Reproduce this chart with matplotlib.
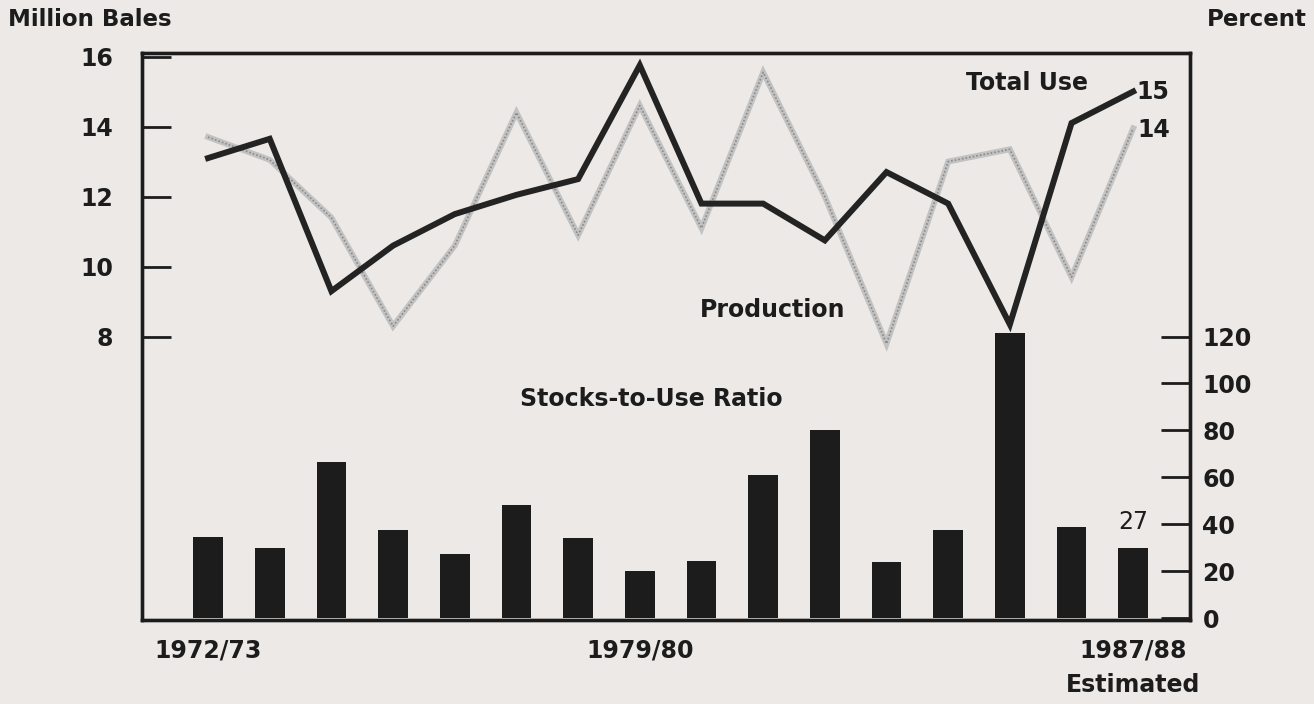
import numpy as np
import matplotlib.pyplot as plt

# ---- data ----
years = ['1972/73', '1973/74', '1974/75', '1975/76', '1976/77', '1977/78', '1978/79', '1979/80',
         '1980/81', '1981/82', '1982/83', '1983/84', '1984/85', '1985/86', '1986/87', '1987/88']
total_use = [13.1, 13.65, 9.3, 10.6, 11.5, 12.05, 12.5, 15.75,
             11.8, 11.8, 10.75, 12.7, 11.8, 8.35, 14.1, 15.0]
production = [13.7, 13.05, 11.4, 8.3, 10.6, 14.4, 10.9, 14.6,
              11.1, 15.55, 12.0, 7.8, 13.0, 13.35, 9.7, 13.95]
stocks_ratio = [34.5, 30.0, 66.5, 37.5, 27.3, 48.4, 34.1, 20.3,
                24.4, 60.9, 80.2, 23.8, 37.8, 121.4, 38.7, 30.0]
xlabels = {0: '1972/73', 7: '1979/80', 15: '1987/88\nEstimated'}

bg = '#ece9e7'
ink = '#1c1c1c'
plt.rcParams['font.family'] = ['DejaVu Sans']

fig = plt.figure(figsize=(13.14, 7.04), dpi=100, facecolor=bg)
ax = fig.add_axes([0.1081, 0.1193, 0.7975, 0.8054])
ax2 = ax.twinx()
ax.set_zorder(2)
ax.patch.set_visible(False)
ax2.set_facecolor(bg)

x = np.arange(len(years))

# bars (percent, right scale)
ax2.bar(x, stocks_ratio, width=0.48, color=ink, zorder=2)
ax2.set_ylim(-0.7, 240.7)
ax2.set_yticks([0, 20, 40, 60, 80, 100, 120])
ax2.tick_params(axis='y', direction='in', length=21, width=2, color=ink,
                pad=9, labelsize=17, labelcolor=ink)
for lbl in ax2.get_yticklabels():
    lbl.set_fontweight('bold')

# lines (million bales, left scale)
ax.plot(x, production, color='#c2c2c2', lw=4.2, solid_joinstyle='miter', zorder=3)
ax.plot(x, production, color='#8a8a8a', lw=1.2, ls=(0, (1, 1.2)), zorder=3)
ax.plot(x, total_use, color='#232323', lw=4.3, solid_joinstyle='miter', zorder=4)
ax.set_ylim(-0.09, 16.1)
ax.set_xlim(-1.07, 15.92)
ax.set_yticks([8, 10, 12, 14, 16])
ax.tick_params(axis='y', direction='in', length=21, width=2, color=ink,
               pad=21, labelsize=17, labelcolor=ink)
for lbl in ax.get_yticklabels():
    lbl.set_fontweight('bold')

ax.set_xticks(list(xlabels.keys()))
ax.set_xticklabels(list(xlabels.values()), fontsize=17, fontweight='bold', color=ink)
ax.tick_params(axis='x', length=0, pad=13)
for lbl in ax.get_xticklabels():
    lbl.set_linespacing(1.6)
    lbl.set_verticalalignment('top')

for a in (ax, ax2):
    for s in a.spines.values():
        s.set_linewidth(2.4)
        s.set_color(ink)

# annotations
ax.text(13.28, 15.25, 'Total Use', fontsize=17, fontweight='bold', color=ink,
        ha='center', va='center')
ax.text(9.16, 8.76, 'Production', fontsize=17, fontweight='bold', color=ink,
        ha='center', va='center')
ax.text(15.05, total_use[-1], '15', fontsize=17, fontweight='bold', color=ink,
        ha='left', va='center')
ax.text(15.07, production[-1] - 0.05, '14', fontsize=17, fontweight='bold', color=ink,
        ha='left', va='center')
ax2.text(5.06, 93.4, 'Stocks-to-Use Ratio', fontsize=17, fontweight='bold', color=ink,
         ha='left', va='center')
ax2.text(15, 41, '27', fontsize=17, color=ink, ha='center', va='center')

fig.text(8 / 1314, 1 - 20 / 704, 'Million Bales', fontsize=16.5, fontweight='bold',
         color=ink, ha='left', va='center')
fig.text(1307 / 1314, 1 - 20 / 704, 'Percent', fontsize=16.5, fontweight='bold',
         color=ink, ha='right', va='center')

fig.savefig('out.png', dpi=100, facecolor=bg)
